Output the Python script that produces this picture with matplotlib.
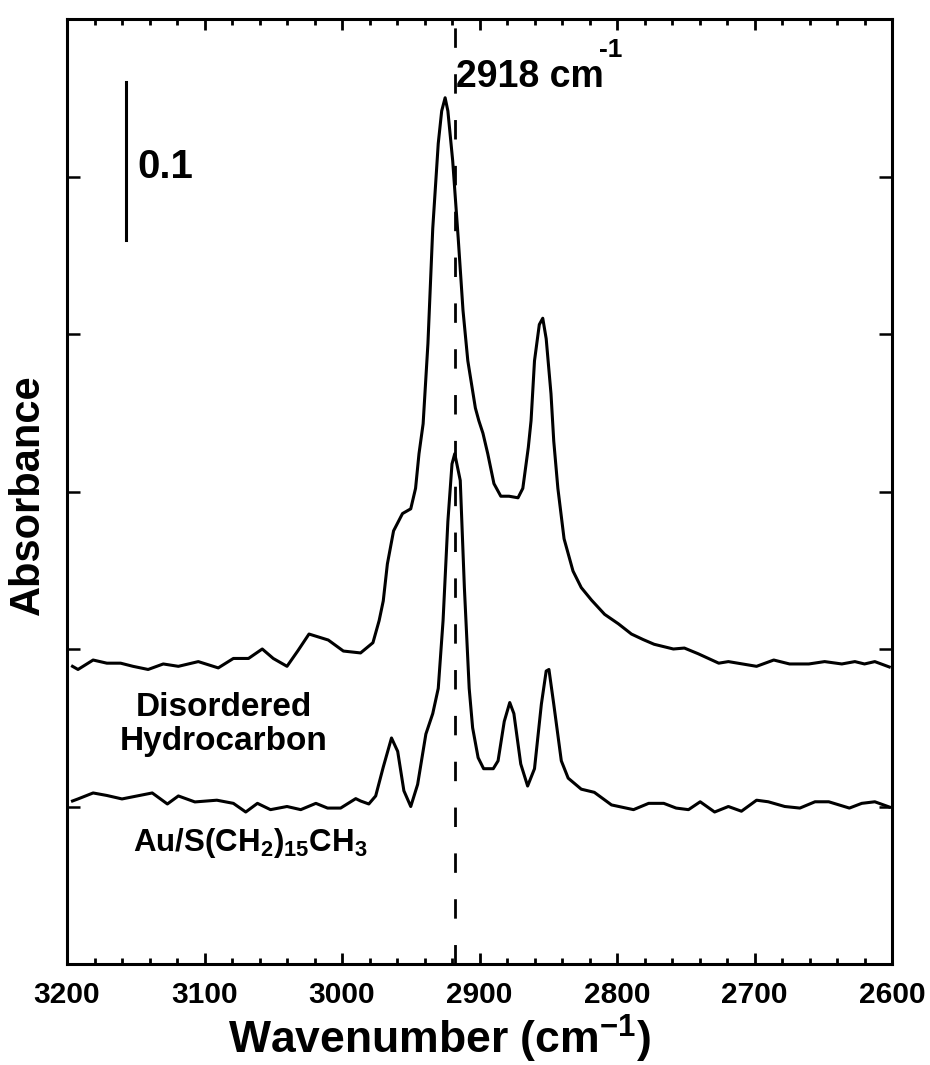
import matplotlib
matplotlib.use("Agg")
import matplotlib.pyplot as plt
from matplotlib.ticker import NullFormatter

plt.rcParams['font.family'] = ['Liberation Sans', 'DejaVu Sans']
plt.rcParams['font.weight'] = 'bold'
plt.rcParams['mathtext.fontset'] = 'custom'
plt.rcParams['mathtext.rm'] = 'Liberation Sans:bold'
plt.rcParams['mathtext.it'] = 'Liberation Sans:bold'
plt.rcParams['mathtext.bf'] = 'Liberation Sans:bold'
plt.rcParams['mathtext.sf'] = 'Liberation Sans:bold'
plt.rcParams['mathtext.default'] = 'rm'

# ---- data: disordered hydrocarbon (upper trace) ----
wn_disordered = [3196, 3192, 3181, 3171, 3161, 3152, 3141, 3130, 3119, 3104.5, 3090, 3079,
                 3068, 3058, 3050, 3040, 3032, 3024, 3010, 2999, 2986.5, 2977.5, 2973, 2970,
                 2967, 2962.5, 2956, 2950, 2946.5, 2944, 2941, 2937.5, 2934, 2930, 2927.5,
                 2925, 2923, 2919.5, 2915.5, 2912, 2908.5, 2903, 2900.5, 2897.5, 2894, 2889.5,
                 2884.5, 2878.5, 2872, 2868.5, 2864.5, 2862.5, 2860, 2856.5, 2854, 2851.5,
                 2848, 2846, 2843, 2838.5, 2832, 2826, 2818.5, 2809, 2799, 2789.5, 2781, 2773,
                 2759, 2751, 2741, 2726, 2719, 2698.5, 2686, 2674.5, 2660.5, 2649, 2636.5,
                 2627, 2620, 2612.5, 2602]
abs_disordered = [0.189, 0.187, 0.193, 0.191, 0.191, 0.189, 0.187, 0.1905, 0.189, 0.192, 0.188,
                  0.194, 0.194, 0.200, 0.194, 0.189, 0.199, 0.2095, 0.2057, 0.1987, 0.1975,
                  0.204, 0.218, 0.2305, 0.254, 0.275, 0.286, 0.289, 0.302, 0.324, 0.343, 0.394,
                  0.467, 0.521, 0.5416, 0.550, 0.5416, 0.510, 0.461, 0.415, 0.383, 0.353, 0.345,
                  0.337, 0.324, 0.305, 0.297, 0.297, 0.296, 0.302, 0.328, 0.345, 0.383, 0.406,
                  0.410, 0.397, 0.362, 0.332, 0.302, 0.270, 0.2495, 0.239, 0.231, 0.222, 0.216,
                  0.2095, 0.206, 0.203, 0.200, 0.2006, 0.197, 0.191, 0.192, 0.189, 0.193,
                  0.1905, 0.1905, 0.192, 0.1905, 0.192, 0.1905, 0.192, 0.1886]

# ---- data: Au/S(CH2)15CH3 (lower trace) ----
wn_sam = [3196, 3192, 3181, 3171, 3160, 3149, 3138, 3127, 3119, 3107, 3091, 3079, 3070, 3061.5,
          3052, 3040, 3030, 3019, 3010.5, 3001, 2990, 2986.5, 2980.5, 2975.5, 2970, 2964,
          2959.5, 2955, 2950, 2945, 2939, 2934, 2930, 2926.5, 2923, 2920, 2918, 2914, 2911,
          2907.5, 2905, 2901, 2897, 2890, 2886.5, 2882, 2878, 2875, 2870, 2865, 2860, 2855,
          2851.5, 2849.5, 2846, 2840.5, 2835.5, 2826, 2816.5, 2804, 2788, 2777, 2766, 2757,
          2748, 2739.5, 2729, 2719, 2709.5, 2698.5, 2690, 2678, 2667, 2656, 2646, 2631, 2622,
          2612.5, 2602]
abs_sam = [0.1035, 0.1048, 0.1086, 0.107, 0.1048, 0.1067, 0.1086, 0.1016, 0.1067, 0.1029, 0.104,
           0.102, 0.0965, 0.102, 0.098, 0.100, 0.098, 0.102, 0.099, 0.099, 0.105, 0.1035,
           0.1016, 0.1067, 0.125, 0.1435, 0.135, 0.110, 0.100, 0.114, 0.146, 0.159, 0.175,
           0.218, 0.281, 0.3175, 0.324, 0.307, 0.239, 0.175, 0.150, 0.131, 0.124, 0.124, 0.129,
           0.154, 0.166, 0.159, 0.127, 0.113, 0.124, 0.165, 0.186, 0.187, 0.165, 0.129, 0.118,
           0.111, 0.109, 0.101, 0.098, 0.102, 0.102, 0.099, 0.098, 0.103, 0.0965, 0.100, 0.097,
           0.104, 0.103, 0.100, 0.099, 0.103, 0.103, 0.099, 0.102, 0.103, 0.0997]

marker_wn = 2918
scale_bar_wn = 3157
scale_bar_range = [0.46, 0.56]
x_ticks = [3200, 3100, 3000, 2900, 2800, 2700, 2600]
x_minor_ticks = [3180, 3160, 3140, 3120, 3080, 3060, 3040, 3020, 2980, 2960, 2940, 2920,
                 2880, 2860, 2840, 2820, 2780, 2760, 2740, 2720, 2680, 2660, 2640, 2620]
y_ticks = [0.0, 0.1, 0.2, 0.3, 0.4, 0.5, 0.6]

fig = plt.figure(figsize=(9.3, 10.65), dpi=100)
ax = fig.add_axes([67/930, 1 - 964/1065, 825/930, 945/1065])
ax.patch.set_visible(False)
ax.set_axisbelow(False)

ax.plot(wn_disordered, abs_disordered, color='black', lw=2.2, solid_joinstyle='round')
ax.plot(wn_sam, abs_sam, color='black', lw=2.2, solid_joinstyle='round')
ax.axvline(marker_wn, color='black', lw=2.0, ls=(0, (7.0, 9.5)))
ax.plot([scale_bar_wn, scale_bar_wn], scale_bar_range, color='black', lw=2.2)

ax.set_xlim(3200, 2600)
ax.set_ylim(0, 0.6)
ax.set_yticks(y_ticks)
ax.yaxis.set_major_formatter(NullFormatter())
ax.set_xticks(x_ticks, labels=[str(t) for t in x_ticks])
ax.set_xticks(x_minor_ticks, minor=True)

ax.tick_params(axis='x', which='major', direction='in', bottom=True, top=True,
               length=8, width=2.0, colors='black', labelsize=21.5, pad=12.5)
ax.tick_params(axis='x', which='minor', direction='in', bottom=True, top=True,
               length=4.5, width=2.0, colors='black')
ax.tick_params(axis='y', which='major', direction='in', left=True, right=True,
               length=9.5, width=1.8, colors='black')
ax.xaxis.set_zorder(5)
ax.yaxis.set_zorder(5)
for sp in ax.spines.values():
    sp.set_linewidth(2.2)
    sp.set_zorder(6)

ax.text(2917, 0.557, '2918 cm', fontsize=27, fontweight='bold',
        ha='left', va='baseline')
ax.text(2813, 0.576, '-1', fontsize=19, fontweight='bold',
        ha='left', va='baseline')
ax.text(3149, 0.506, '0.1', fontsize=29, fontweight='bold', ha='left', va='center')
ax.text(3086, 0.152, 'Disordered\nHydrocarbon', fontsize=24, fontweight='bold',
        ha='center', va='center', multialignment='center', linespacing=1.1)
ax.text(3152, 0.072, 'Au/S(CH$_2$)$_{15}$CH$_3$', fontsize=22.5, fontweight='bold',
        ha='left', va='baseline')

fig.text(439/930, 1 - 1054/1065, 'Wavenumber (cm$^{-1}$)', fontsize=32,
         fontweight='bold', ha='center', va='baseline')
fig.text(28/930, 1 - 495/1065, 'Absorbance', fontsize=30, fontweight='bold',
         rotation=90, ha='center', va='center')

fig.savefig('out.png', dpi=100, facecolor='white')
